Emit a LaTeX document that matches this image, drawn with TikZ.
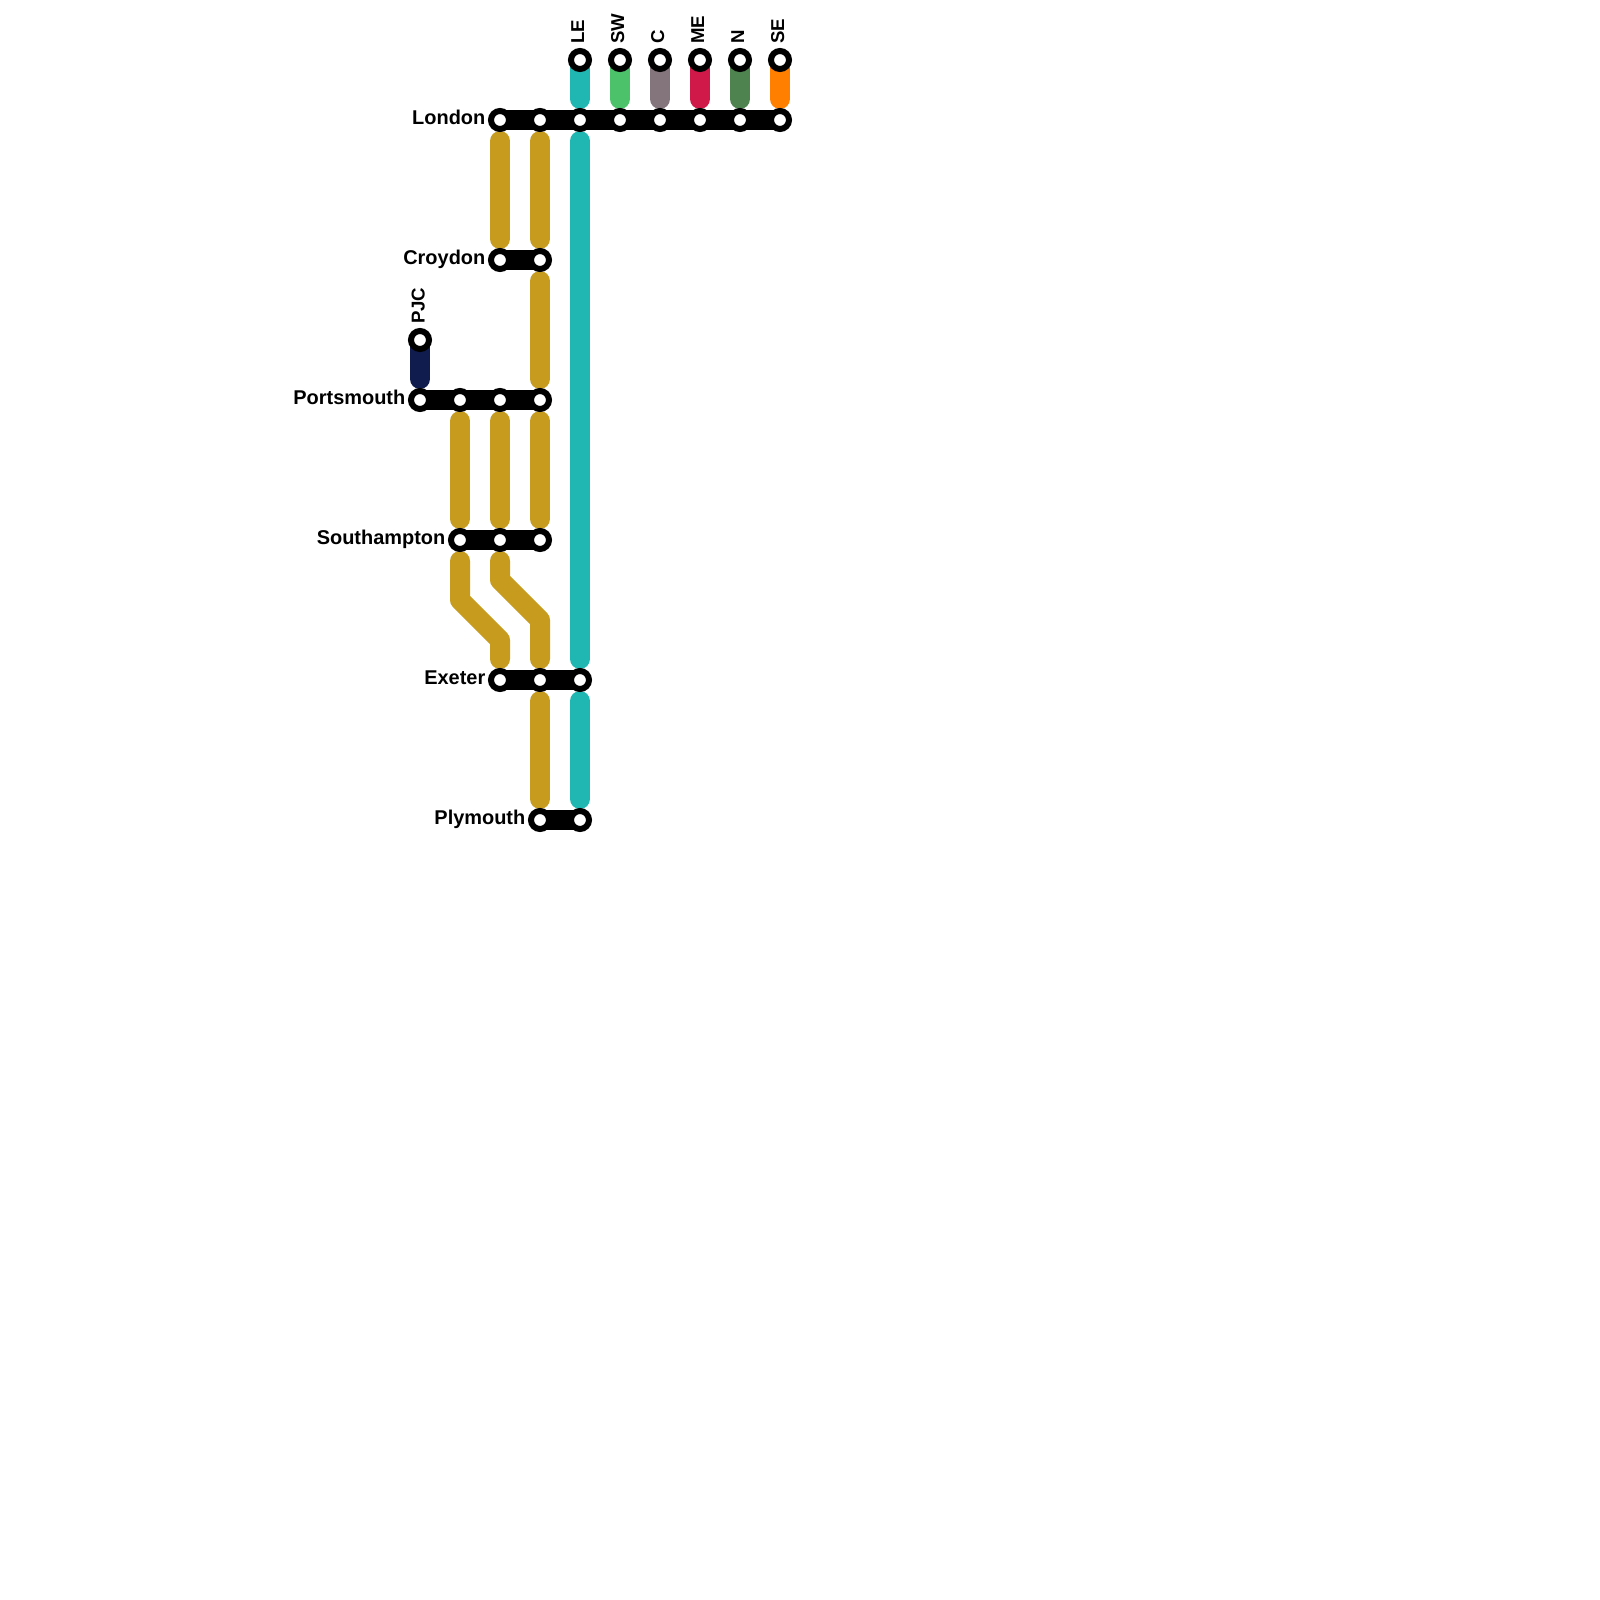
\documentclass[tikz,border=0pt]{standalone}
\usepackage{fontspec}
\setmainfont{Liberation Sans}
\usetikzlibrary{backgrounds}
\definecolor{linegold}{RGB}{199,155,30}
\definecolor{lineteal}{RGB}{32,183,179}
\definecolor{linenavy}{RGB}{15,28,77}
\definecolor{linegreen}{RGB}{76,194,107}
\definecolor{linemauve}{RGB}{132,116,124}
\definecolor{linered}{RGB}{208,25,73}
\definecolor{linefern}{RGB}{78,131,80}
\definecolor{lineorange}{RGB}{255,127,0}
\tikzset{
    stopring/.style={circle, draw=black, fill=white, line width=0.06cm, minimum size=0.18cm, inner sep=0pt, outer sep=0pt},
    hubbar/.style={line width=0.2cm, black},
    route/.style={line width=0.2cm, line cap=round, shorten <=0.21cm, shorten >=0.21cm},
    stub/.style={line width=0.2cm, line cap=round, shorten >=0.21cm},
    cityname/.style={anchor=base east, inner sep=0pt, font=\fontsize{5.67pt}{6pt}\selectfont\bfseries},
    tagname/.style={anchor=base west, rotate=90, inner sep=0pt, font=\fontsize{5.3pt}{6pt}\selectfont\bfseries}
}

\begin{document}
\begin{tikzpicture}[x=0.01cm, y=-0.01cm]
    \useasboundingbox (0,0) rectangle (1600,1600);

    % Stops
    \foreach \name/\px/\py in {
        topLE/580/60, topSW/620/60, topC/660/60, topME/700/60, topN/740/60, topSE/780/60,
        lonA/500/120, lonB/540/120, lonLE/580/120, lonSW/620/120, lonC/660/120, lonME/700/120, lonN/740/120, lonSE/780/120,
        croA/500/260, croB/540/260,
        topPJC/420/340,
        porJ/420/400, porA/460/400, porB/500/400, porC/540/400,
        souA/460/540, souB/500/540, souC/540/540,
        exeA/500/680, exeB/540/680, exeC/580/680,
        plyA/540/820, plyB/580/820}
        \node[stopring] (\name) at (\px,\py) {};

    % Bends
    \coordinate (bendAa) at (460,600);
    \coordinate (bendAb) at (500,640);
    \coordinate (bendBa) at (500,580);
    \coordinate (bendBb) at (540,620);

    \begin{scope}[on background layer]
        % Hubs
        \draw[hubbar] (lonA.center) -- (lonSE.center);
        \draw[hubbar] (croA.center) -- (croB.center);
        \draw[hubbar] (porJ.center) -- (porC.center);
        \draw[hubbar] (souA.center) -- (souC.center);
        \draw[hubbar] (exeA.center) -- (exeC.center);
        \draw[hubbar] (plyA.center) -- (plyB.center);

        % Stubs
        \draw[stub, lineteal] (topLE.center) -- (lonLE.center);
        \draw[stub, linegreen] (topSW.center) -- (lonSW.center);
        \draw[stub, linemauve] (topC.center) -- (lonC.center);
        \draw[stub, linered] (topME.center) -- (lonME.center);
        \draw[stub, linefern] (topN.center) -- (lonN.center);
        \draw[stub, lineorange] (topSE.center) -- (lonSE.center);
        \draw[stub, linenavy] (topPJC.center) -- (porJ.center);

        % Gold routes
        \draw[route, linegold] (lonA.center) -- (croA.center);
        \draw[route, linegold] (lonB.center) -- (croB.center);
        \draw[route, linegold] (croB.center) -- (porC.center);
        \draw[route, linegold] (porA.center) -- (souA.center);
        \draw[route, linegold] (porB.center) -- (souB.center);
        \draw[route, linegold] (porC.center) -- (souC.center);
        \draw[route, linegold, line join=round] (souA.center) -- (bendAa) -- (bendAb) -- (exeA.center);
        \draw[route, linegold, line join=round] (souB.center) -- (bendBa) -- (bendBb) -- (exeB.center);
        \draw[route, linegold] (exeB.center) -- (plyA.center);

        % Teal routes
        \draw[route, lineteal] (lonLE.center) -- (exeC.center);
        \draw[route, lineteal] (exeC.center) -- (plyB.center);
    \end{scope}

    % Labels
    \node[cityname] (nameLondon) at (486,124.5) {London};
    \node[cityname] (nameCroydon) at (486,264.5) {Croydon};
    \node[cityname] (namePortsmouth) at (406,404.5) {Portsmouth};
    \node[cityname] (nameSouthampton) at (446,544.5) {Southampton};
    \node[cityname] (nameExeter) at (486,684.5) {Exeter};
    \node[cityname] (namePlymouth) at (526,824.5) {Plymouth};

    \node[tagname] (tagLE) at (584,44.5) {LE};
    \node[tagname] (tagSW) at (624,44.5) {SW};
    \node[tagname] (tagC) at (664,44.5) {C};
    \node[tagname] (tagME) at (704,44.5) {ME};
    \node[tagname] (tagN) at (744,44.5) {N};
    \node[tagname] (tagSE) at (784,44.5) {SE};
    \node[tagname] (tagPJC) at (424.5,324.5) {PJC};
\end{tikzpicture}
\end{document}
